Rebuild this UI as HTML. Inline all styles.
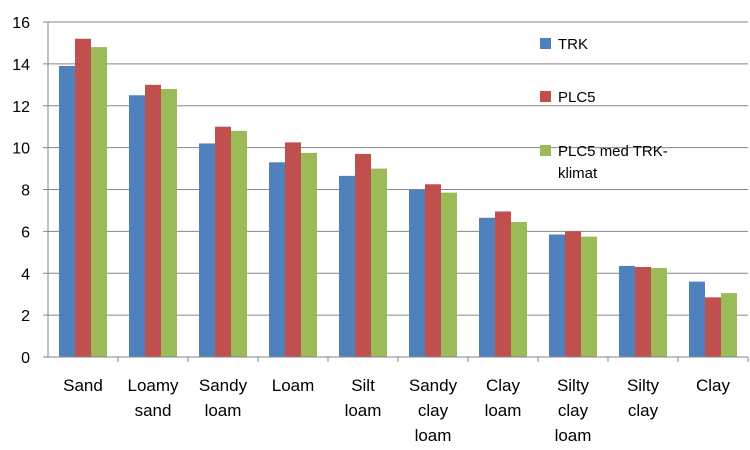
<!DOCTYPE html>
<html><head><meta charset="utf-8"><style>
body{margin:0;background:#fff;}
svg{display:block;font-family:"Liberation Sans",sans-serif;}
</style></head><body>
<svg id="chart" width="750" height="450"></svg>
<script>
const categories=[["Sand"],["Loamy","sand"],["Sandy","loam"],["Loam"],["Silt","loam"],["Sandy","clay","loam"],["Clay","loam"],["Silty","clay","loam"],["Silty","clay"],["Clay"]];
const trk=[13.9,12.5,10.2,9.3,8.65,8.0,6.65,5.85,4.35,3.6];
const plc5=[15.2,13.0,11.0,10.25,9.7,8.25,6.95,6.0,4.3,2.85];
const plc5trk=[14.8,12.8,10.8,9.75,9.0,7.85,6.45,5.75,4.25,3.05];
const yTicks=[0,2,4,6,8,10,12,14,16];
const seriesNames=["TRK","PLC5","PLC5 med TRK-klimat"];

const svg=document.getElementById('chart');
const NS="http://www.w3.org/2000/svg";
const x0=48,x1=748,y0=357,yTop=22;
const y=v=>y0-(v/16)*(y0-yTop);
const band=(x1-x0)/categories.length;
const cx=i=>x0+band*(i+0.5);
function mk(t,a,txt){const e=document.createElementNS(NS,t);for(const k in a)e.setAttribute(k,a[k]);if(txt!==undefined)e.textContent=txt;svg.appendChild(e);return e;}
yTicks.forEach(v=>{
  if(v>0){const g=mk('line',{x1:x0,x2:x1,y1:y(v),y2:y(v),stroke:'#868686','stroke-width':1});
  
  }
  const t=mk('text',{x:x0-18,y:y(v)+6,'text-anchor':'end','font-size':16,fill:'#000'},v);
  
  
  const tk=mk('line',{x1:x0-5,x2:x0,y1:y(v),y2:y(v),stroke:'#868686'});
  
  
});
const series=[trk,plc5,plc5trk],colors=['#4F81BD','#C0504D','#9BBB59'];
const bw=16;
series.forEach((s,si)=>s.forEach((v,i)=>{
  const r=mk('rect',{x:cx(i)-1.5*bw+si*bw,y:y(v),width:bw,height:y0-y(v),fill:colors[si]});
  
  
}));
const ax=mk('line',{x1:x0,x2:x1,y1:y0,y2:y0,stroke:'#868686'});


const ay=mk('line',{x1:x0,x2:x0,y1:yTop,y2:y0,stroke:'#868686'});


categories.forEach((c,i)=>{
  const tk=mk('line',{x1:x0+band*(i+1),x2:x0+band*(i+1),y1:y0,y2:y0+5,stroke:'#868686'});
  
  
  c.forEach((w,j)=>{
    const t=mk('text',{x:cx(i),y:391+j*25,'text-anchor':'middle','font-size':17,fill:'#000'},w);
    
    
  });
});
const leg=[[43,['TRK']],[96,['PLC5']],[150,['PLC5 med TRK-','klimat']]];
leg.forEach((l,i)=>{
  const r=mk('rect',{x:540,y:l[0]-5,width:11,height:11,fill:colors[i]});
  
  
  l[1].forEach((w,j)=>{
    const t=mk('text',{x:558,y:l[0]+6+j*22,'font-size':15,fill:'#000'},w);
    
    
  });
});
</script>
</body></html>
